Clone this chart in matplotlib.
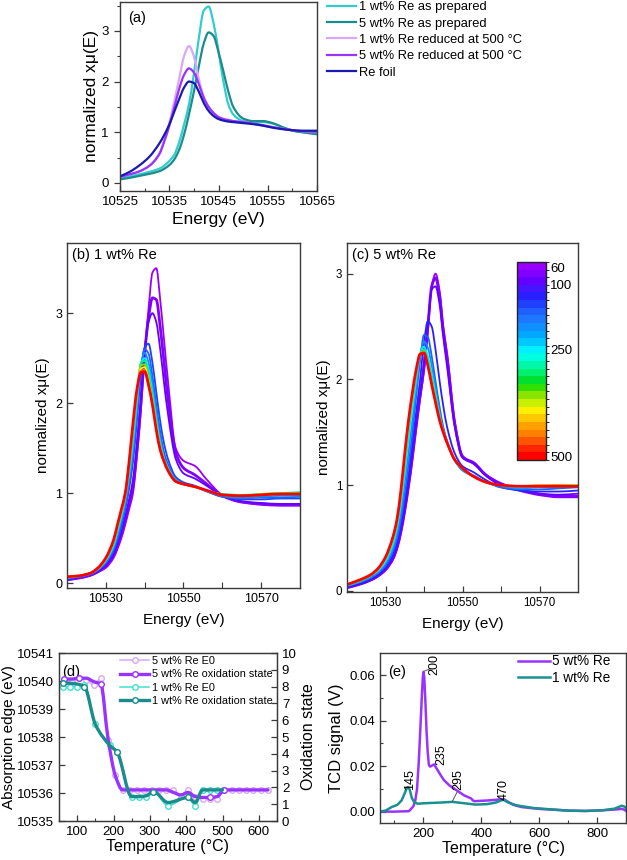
import numpy as np
import matplotlib
matplotlib.use('Agg')
import matplotlib.pyplot as plt
from matplotlib.colors import ListedColormap, BoundaryNorm
from matplotlib.ticker import MultipleLocator, FixedLocator, FormatStrFormatter
import matplotlib.colorbar as mcolorbar
from matplotlib.lines import Line2D
from matplotlib.path import Path
from matplotlib.patches import PathPatch

plt.rcParams['font.family'] = ['Liberation Sans', 'DejaVu Sans']

# ---------------- Panel (a) data ----------------
E_a = [10525, 10527, 10529, 10531, 10533, 10534, 10535, 10536, 10537, 10538, 10539, 10540,
       10541, 10542, 10543, 10544, 10545, 10546, 10547, 10548, 10550, 10552, 10554, 10556,
       10558, 10560, 10562, 10565]
a_1wt_prep = [0.10, 0.13, 0.17, 0.22, 0.28, 0.34, 0.43, 0.55, 0.80, 1.15, 1.55, 2.15, 2.85, 3.40,
              3.48, 3.15, 2.60, 2.00, 1.55, 1.35, 1.22, 1.19, 1.20, 1.17, 1.10, 1.04, 1.00, 0.97]
a_5wt_prep = [0.07, 0.10, 0.14, 0.18, 0.23, 0.28, 0.35, 0.46, 0.65, 0.95, 1.35, 1.80, 2.30, 2.75,
              2.97, 2.90, 2.58, 2.20, 1.80, 1.50, 1.27, 1.22, 1.22, 1.18, 1.10, 1.03, 1.00, 0.96]
a_1wt_red = [0.12, 0.17, 0.23, 0.34, 0.58, 0.85, 1.18, 1.60, 2.05, 2.50, 2.70, 2.50, 2.05, 1.70,
             1.50, 1.38, 1.30, 1.26, 1.24, 1.22, 1.20, 1.17, 1.13, 1.10, 1.07, 1.04, 1.02, 1.00]
a_5wt_red = [0.12, 0.17, 0.23, 0.34, 0.57, 0.82, 1.12, 1.48, 1.85, 2.13, 2.26, 2.18, 1.95, 1.68,
             1.50, 1.38, 1.30, 1.26, 1.24, 1.22, 1.20, 1.17, 1.14, 1.10, 1.07, 1.04, 1.02, 1.01]
a_foil = [0.13, 0.22, 0.35, 0.52, 0.78, 0.95, 1.15, 1.40, 1.65, 1.88, 2.00, 1.97, 1.80, 1.58,
          1.42, 1.32, 1.26, 1.23, 1.21, 1.20, 1.18, 1.16, 1.13, 1.09, 1.06, 1.04, 1.03, 1.03]
a_labels = ['1 wt% Re as prepared', '5 wt% Re as prepared', '1 wt% Re reduced at 500 °C',
            '5 wt% Re reduced at 500 °C', 'Re foil']

# ---------------- Panels (b), (c) data ----------------
E_bc = [10520, 10523, 10526, 10528, 10530, 10532, 10533, 10534, 10535, 10536, 10537, 10538,
        10539, 10540, 10541, 10542, 10543, 10544, 10545, 10546, 10548, 10550, 10553, 10556,
        10560, 10565, 10570, 10575, 10580]

b_temps = [60, 80, 100, 140, 170, 200, 250, 300, 350, 400, 450, 500]
b_60 = [0.03, 0.05, 0.08, 0.12, 0.17, 0.28, 0.38, 0.50, 0.65, 0.82, 1.00, 1.40, 1.90, 2.55, 3.05,
        3.45, 3.50, 3.15, 2.70, 2.25, 1.50, 1.36, 1.30, 1.15, 0.98, 0.90, 0.87, 0.86, 0.86]
b_80 = [0.04, 0.06, 0.09, 0.13, 0.19, 0.31, 0.41, 0.54, 0.70, 0.88, 1.08, 1.48, 1.98, 2.55, 2.95,
        3.17, 3.15, 2.85, 2.45, 2.05, 1.45, 1.28, 1.20, 1.10, 0.97, 0.90, 0.88, 0.87, 0.87]
b_100 = [0.04, 0.06, 0.09, 0.13, 0.20, 0.32, 0.43, 0.57, 0.74, 0.93, 1.15, 1.55, 2.05, 2.58, 2.90,
         3.00, 2.90, 2.60, 2.22, 1.88, 1.38, 1.22, 1.16, 1.08, 0.97, 0.91, 0.89, 0.88, 0.88]
b_140 = [0.05, 0.07, 0.10, 0.14, 0.22, 0.36, 0.48, 0.63, 0.82, 1.05, 1.35, 1.80, 2.30, 2.62, 2.66,
         2.45, 2.12, 1.80, 1.55, 1.38, 1.18, 1.12, 1.08, 1.02, 0.96, 0.93, 0.93, 0.94, 0.94]
b_170 = [0.05, 0.07, 0.10, 0.15, 0.23, 0.38, 0.51, 0.67, 0.86, 1.10, 1.42, 1.88, 2.38, 2.60, 2.55,
         2.30, 1.98, 1.68, 1.45, 1.32, 1.16, 1.11, 1.07, 1.02, 0.96, 0.94, 0.95, 0.95, 0.96]
b_200 = [0.06, 0.07, 0.10, 0.15, 0.24, 0.40, 0.54, 0.70, 0.90, 1.15, 1.50, 1.95, 2.42, 2.56, 2.45,
         2.20, 1.88, 1.60, 1.40, 1.29, 1.15, 1.10, 1.07, 1.02, 0.97, 0.95, 0.96, 0.97, 0.97]
b_250 = [0.06, 0.08, 0.11, 0.16, 0.25, 0.42, 0.57, 0.74, 0.94, 1.22, 1.58, 2.02, 2.44, 2.50, 2.37,
         2.12, 1.82, 1.56, 1.38, 1.28, 1.14, 1.10, 1.07, 1.03, 0.98, 0.97, 0.98, 0.99, 1.00]
b_300 = [0.06, 0.08, 0.11, 0.16, 0.26, 0.44, 0.60, 0.77, 0.97, 1.27, 1.66, 2.08, 2.44, 2.47, 2.32,
         2.07, 1.78, 1.53, 1.37, 1.27, 1.14, 1.10, 1.07, 1.03, 0.99, 0.98, 0.99, 1.00, 1.01]
b_350 = [0.06, 0.08, 0.11, 0.16, 0.27, 0.46, 0.62, 0.79, 0.98, 1.30, 1.72, 2.12, 2.42, 2.43, 2.27,
         2.03, 1.75, 1.51, 1.36, 1.26, 1.13, 1.10, 1.07, 1.03, 0.98, 0.97, 0.99, 1.00, 1.00]
b_400 = [0.07, 0.08, 0.11, 0.17, 0.27, 0.47, 0.63, 0.80, 0.99, 1.32, 1.75, 2.13, 2.38, 2.40, 2.24,
         2.01, 1.73, 1.50, 1.35, 1.25, 1.13, 1.10, 1.07, 1.03, 0.98, 0.97, 0.98, 0.99, 0.99]
b_450 = [0.07, 0.08, 0.11, 0.17, 0.28, 0.48, 0.64, 0.81, 1.00, 1.34, 1.77, 2.14, 2.36, 2.37, 2.22,
         1.99, 1.71, 1.49, 1.35, 1.25, 1.13, 1.10, 1.07, 1.03, 0.98, 0.97, 0.98, 0.99, 0.99]
b_500 = [0.07, 0.08, 0.11, 0.17, 0.28, 0.48, 0.65, 0.82, 1.00, 1.35, 1.78, 2.15, 2.34, 2.35, 2.20,
         1.98, 1.70, 1.48, 1.35, 1.25, 1.13, 1.10, 1.07, 1.03, 0.98, 0.97, 0.98, 0.99, 0.99]
b_curves = [b_60, b_80, b_100, b_140, b_170, b_200, b_250, b_300, b_350, b_400, b_450, b_500]

c_temps = [60, 80, 100, 130, 160, 200, 250, 300, 370, 430, 500]
c_60 = [0.03, 0.06, 0.10, 0.14, 0.20, 0.30, 0.40, 0.55, 0.75, 0.98, 1.25, 1.55, 1.82, 2.08, 2.45,
        2.88, 3.00, 2.85, 2.50, 2.25, 1.60, 1.28, 1.20, 1.10, 1.02, 0.96, 0.92, 0.90, 0.90]
c_80 = [0.03, 0.06, 0.10, 0.14, 0.20, 0.31, 0.41, 0.56, 0.76, 1.00, 1.27, 1.57, 1.85, 2.12, 2.50,
        2.88, 2.96, 2.80, 2.46, 2.20, 1.58, 1.27, 1.21, 1.10, 1.01, 0.95, 0.91, 0.89, 0.89]
c_100 = [0.04, 0.06, 0.10, 0.14, 0.21, 0.32, 0.42, 0.58, 0.78, 1.02, 1.30, 1.60, 1.88, 2.16, 2.52,
         2.85, 2.88, 2.72, 2.40, 2.12, 1.55, 1.26, 1.20, 1.09, 1.00, 0.95, 0.92, 0.91, 0.92]
c_130 = [0.04, 0.07, 0.11, 0.15, 0.22, 0.35, 0.46, 0.63, 0.85, 1.10, 1.40, 1.70, 2.00, 2.35, 2.55,
         2.50, 2.28, 2.00, 1.75, 1.55, 1.30, 1.18, 1.12, 1.05, 0.98, 0.95, 0.94, 0.94, 0.95]
c_160 = [0.05, 0.08, 0.12, 0.17, 0.24, 0.38, 0.50, 0.68, 0.92, 1.20, 1.50, 1.85, 2.18, 2.42, 2.40,
         2.22, 1.98, 1.75, 1.55, 1.42, 1.24, 1.14, 1.09, 1.03, 0.98, 0.96, 0.96, 0.97, 0.98]
c_200 = [0.05, 0.08, 0.13, 0.18, 0.26, 0.42, 0.55, 0.75, 1.02, 1.32, 1.62, 1.93, 2.22, 2.36, 2.30,
         2.13, 1.92, 1.70, 1.53, 1.41, 1.23, 1.14, 1.08, 1.03, 0.99, 0.97, 0.98, 0.98, 0.99]
c_250 = [0.05, 0.09, 0.14, 0.19, 0.28, 0.45, 0.60, 0.82, 1.12, 1.44, 1.73, 2.00, 2.24, 2.31, 2.22,
         2.05, 1.86, 1.67, 1.52, 1.41, 1.23, 1.15, 1.08, 1.03, 1.00, 0.98, 0.99, 0.99, 1.00]
c_300 = [0.06, 0.09, 0.14, 0.20, 0.30, 0.48, 0.63, 0.87, 1.19, 1.52, 1.80, 2.05, 2.24, 2.28, 2.18,
         2.01, 1.83, 1.65, 1.51, 1.40, 1.24, 1.16, 1.08, 1.03, 1.00, 0.99, 0.99, 1.00, 1.00]
c_370 = [0.06, 0.10, 0.15, 0.20, 0.31, 0.50, 0.66, 0.91, 1.24, 1.57, 1.84, 2.08, 2.24, 2.26, 2.15,
         1.98, 1.80, 1.63, 1.50, 1.40, 1.24, 1.16, 1.08, 1.03, 1.00, 0.99, 0.99, 1.00, 1.00]
c_430 = [0.06, 0.10, 0.15, 0.21, 0.32, 0.51, 0.67, 0.93, 1.27, 1.60, 1.86, 2.09, 2.24, 2.26, 2.14,
         1.97, 1.79, 1.63, 1.50, 1.40, 1.24, 1.16, 1.08, 1.03, 1.00, 0.99, 1.00, 1.00, 0.99]
c_500 = [0.06, 0.10, 0.15, 0.21, 0.32, 0.52, 0.68, 0.95, 1.30, 1.62, 1.88, 2.10, 2.24, 2.25, 2.13,
         1.95, 1.78, 1.62, 1.50, 1.40, 1.24, 1.16, 1.08, 1.03, 1.00, 0.99, 0.99, 0.99, 0.99]
c_curves = [c_60, c_80, c_100, c_130, c_160, c_200, c_250, c_300, c_370, c_430, c_500]

cbar_ticks = [60, 100, 250, 500]

# ---------------- Panel (d) data ----------------
T_5 = [65, 85, 105, 125, 145, 165, 185, 205, 225, 245, 265, 285, 305, 325, 345, 365, 385, 405,
       425, 445, 465, 485, 505, 525, 545, 565, 585, 605, 625]
E0_5 = [10540.05, 10539.95, 10540.1, 10540.05, 10539.85, 10540.1, 10537.9, 10536.65, 10536.1,
        10536.1, 10536.1, 10536.1, 10536.1, 10536.1, 10536.1, 10536.1, 10535.9, 10536.1,
        10535.85, 10535.8, 10535.8, 10535.8, 10536.1, 10536.1, 10536.1, 10536.1, 10536.1,
        10536.1, 10536.1]
OX_5 = [8.45, 8.45, 8.5, 8.5, 8.3, 8.15, 4.9, 2.7, 1.85, 1.85, 1.85, 1.85, 1.85, 1.85, 1.85,
        1.7, 1.55, 1.7, 1.45, 1.4, 1.4, 1.45, 1.85, 1.85, 1.85, 1.85, 1.85, 1.85, 1.85]
T_1 = [60, 80, 100, 120, 150, 190, 210, 250, 270, 290, 310, 350, 405, 425, 445, 465, 485, 500]
E0_1 = [10539.8, 10539.8, 10539.8, 10539.85, 10538.45, 10537.7, 10537.45, 10535.85, 10535.85,
        10535.85, 10536.05, 10535.55, 10535.85, 10535.55, 10536.1, 10536.1, 10536.1, 10536.1]
OX_1 = [8.2, 8.2, 8.15, 8.0, 5.75, 4.5, 4.1, 1.45, 1.45, 1.5, 1.75, 1.1, 1.4, 1.1, 1.85, 1.85,
        1.85, 1.85]
d_labels = ['5 wt% Re E0', '5 wt% Re oxidation state', '1 wt% Re E0', '1 wt% Re oxidation state']

# ---------------- Panel (e) data ----------------
Te_5 = [50, 100, 150, 165, 172, 178, 184, 190, 195, 198, 200, 203, 207, 211, 215, 219, 223, 230,
        237, 243, 255, 270, 290, 310, 340, 365, 372, 376, 390, 420, 450, 470, 478, 490, 510, 540,
        600, 700, 760, 820, 870, 885, 895, 900]
Ve_5 = [0.0, 0.0, 0.0002, 0.0023, 0.005, 0.010, 0.022, 0.038, 0.052, 0.059, 0.0615, 0.059,
        0.048, 0.035, 0.026, 0.0205, 0.0198, 0.0203, 0.0208, 0.0195, 0.017, 0.014, 0.0115,
        0.0098, 0.0072, 0.0058, 0.0048, 0.0046, 0.0047, 0.0049, 0.0052, 0.0055, 0.0055, 0.0045,
        0.0030, 0.0020, 0.0012, 0.0005, 0.0003, 0.0006, 0.0010, 0.0012, 0.0008, 0.0003]
Te_1 = [50, 70, 90, 110, 125, 135, 143, 148, 153, 160, 168, 180, 220, 260, 300, 340, 380, 420,
        450, 470, 478, 490, 520, 580, 650, 700, 760, 820, 860, 885, 895, 900]
Ve_1 = [0.0, 0.0005, 0.002, 0.003, 0.005, 0.008, 0.0105, 0.0108, 0.0095, 0.006, 0.0042, 0.0035,
        0.0038, 0.0040, 0.0043, 0.0037, 0.0031, 0.0033, 0.0040, 0.0050, 0.0052, 0.0042, 0.0028,
        0.0016, 0.0009, 0.0004, 0.0003, 0.0006, 0.0013, 0.0026, 0.0022, 0.0015]
e_peak_labels = ['145', '200', '235', '295', '470']
e_peak_pos = [(155, 0.0096), (238, 0.0600), (261, 0.0206), (320, 0.0096), (478, 0.0053)]
e_labels = ['5 wt% Re', '1 wt% Re']

# ---------------- styling ----------------
SPINE = '#3a3a3a'
C_CYAN = '#33CCCC'
C_TEAL = '#1A8C8C'
C_LAV = '#D9A8F8'
C_VIO = '#9933FF'
C_NAVY = '#1A1AB0'
C_LCYAN = '#40E0D0'

band_colors = ['#9A00FF', '#8200FF', '#6400FF', '#4614FF', '#2A20FF', '#2040FF', '#2060FF',
               '#1E78FF', '#1090FF', '#00A8FF', '#00C8FF', '#00F0FF', '#00FFE0', '#00F8A8',
               '#00F070', '#00E030', '#30E000', '#88E400', '#C8F000', '#FFF000', '#FFC800',
               '#FFA000', '#FF8000', '#FF5400', '#FF2400', '#FF0000']
cmap = ListedColormap(band_colors)
norm = BoundaryNorm(np.linspace(48, 507, len(band_colors) + 1), len(band_colors))

fig = plt.figure(figsize=(6.27, 8.60), dpi=100)


def smooth_line(ax, x, y, color, lw, zorder=2):
    """Draw a line through the data points as a smooth (monotone cubic) Bezier path."""
    x = np.asarray(x, float)
    y = np.asarray(y, float)
    h = np.diff(x)
    d = np.diff(y) / h
    m = np.zeros_like(y)
    m[0], m[-1] = d[0], d[-1]
    for k in range(1, len(x) - 1):
        if d[k - 1] * d[k] <= 0:
            m[k] = 0.0
        else:
            w1 = 2 * h[k] + h[k - 1]
            w2 = h[k] + 2 * h[k - 1]
            m[k] = (w1 + w2) / (w1 / d[k - 1] + w2 / d[k])
    verts = [(x[0], y[0])]
    codes = [Path.MOVETO]
    for k in range(len(x) - 1):
        verts += [(x[k] + h[k] / 3, y[k] + m[k] * h[k] / 3),
                  (x[k + 1] - h[k] / 3, y[k + 1] - m[k + 1] * h[k] / 3),
                  (x[k + 1], y[k + 1])]
        codes += [Path.CURVE4] * 3
    patch = PathPatch(Path(verts, codes), facecolor='none', edgecolor=color, lw=lw,
                      capstyle='round', joinstyle='round', zorder=zorder)
    ax.add_patch(patch)
    return patch


def style_axes(ax, xdir='in', ydir='in'):
    for s in ax.spines.values():
        s.set_color(SPINE)
        s.set_linewidth(1.0)
    ax.tick_params(axis='x', which='both', direction=xdir, color=SPINE, top=False)
    ax.tick_params(axis='y', which='both', direction=ydir, color=SPINE, right=False)
    ax.tick_params(which='major', length=4.5, width=0.9)
    ax.tick_params(which='minor', length=2.5, width=0.8)


def px_axes(l, t, r, b):
    return fig.add_axes([l / 627, 1 - b / 860, (r - l) / 627, (b - t) / 860])


# ---------------- (a) ----------------
ax_a = px_axes(120, 2, 317, 191)
series_a = [a_1wt_prep, a_5wt_prep, a_1wt_red, a_5wt_red, a_foil]
cols_a = [C_CYAN, C_TEAL, C_LAV, C_VIO, C_NAVY]
handles = []
for ys, c, lab in zip(series_a, cols_a, a_labels):
    smooth_line(ax_a, E_a, ys, c, 1.6)
    handles.append(Line2D([], [], color=c, lw=1.6, label=lab))
ax_a.set_xlim(10525, 10565)
ax_a.set_ylim(-0.16, 3.57)
ax_a.xaxis.set_major_locator(FixedLocator([10525, 10535, 10545, 10555, 10565]))
ax_a.xaxis.set_minor_locator(MultipleLocator(5))
ax_a.yaxis.set_major_locator(MultipleLocator(1))
ax_a.yaxis.set_minor_locator(MultipleLocator(0.5))
ax_a.xaxis.set_major_formatter(FormatStrFormatter('%d'))
style_axes(ax_a, xdir='in', ydir='out')
ax_a.tick_params(labelsize=9.5)
ax_a.set_xlabel('Energy (eV)', fontsize=12.5, labelpad=3)
ax_a.set_ylabel('normalized xμ(E)', fontsize=12.5, labelpad=2)
ax_a.text(0.04, 0.95, '(a)', transform=ax_a.transAxes, fontsize=10.5, va='top')
fig.legend(handles=handles, loc='upper left', bbox_to_anchor=(326 / 627, 1.0),
           frameon=False, fontsize=9.3, handlelength=2.2, handletextpad=0.25,
           labelspacing=0.33, borderpad=0.1, borderaxespad=0)


# ---------------- (b) and (c) ----------------
def xanes_panel(ax, temps, curves, title, ylim, labsize, ylabelpad):
    for T, ys in zip(temps, curves):
        col = cmap(norm(T))
        lw = 2.0 if T in (80, 500) else 1.3
        smooth_line(ax, E_bc, ys, col, lw)
    ax.set_xlim(10520, 10580)
    ax.set_ylim(*ylim)
    ax.xaxis.set_major_locator(FixedLocator([10530, 10550, 10570]))
    ax.xaxis.set_minor_locator(FixedLocator([10540, 10560]))
    ax.yaxis.set_major_locator(MultipleLocator(1))
    ax.xaxis.set_major_formatter(FormatStrFormatter('%d'))
    style_axes(ax, 'in', 'in')
    ax.tick_params(labelsize=labsize)
    ax.tick_params(axis='x', which='minor', length=4.5)
    ax.set_xlabel('Energy (eV)', fontsize=11, labelpad=6)
    ax.set_ylabel('normalized xμ(E)', fontsize=11, labelpad=ylabelpad)
    ax.text(0.02, 0.985, title, transform=ax.transAxes, fontsize=10.5, va='top')


ax_b = px_axes(67, 243, 300, 588)
xanes_panel(ax_b, b_temps, b_curves, '(b) 1 wt% Re', (-0.055, 3.78), 9, 4)
ax_c = px_axes(347, 243, 578, 592)
xanes_panel(ax_c, c_temps, c_curves, '(c) 5 wt% Re', (-0.01, 3.29), 8.3, 3)

cax = px_axes(517, 262, 546, 460)
cb = mcolorbar.ColorbarBase(cax, cmap=cmap, norm=norm, orientation='vertical')
cax.invert_yaxis()
cb.set_ticks(cbar_ticks)
cb.set_ticklabels([str(t) for t in cbar_ticks])
cax.tick_params(length=0, labelsize=9.5, pad=3)
cb.outline.set_linewidth(1.0)
cb.outline.set_edgecolor('#222222')

# ---------------- (d) ----------------
ax_d = px_axes(59, 653, 277, 821)
ax_d2 = ax_d.twinx()
mk = dict(marker='o', ms=4, mfc='white', mew=1.0, ls='none')
smooth_line(ax_d, T_5, E0_5, C_LAV, 1.1)
ax_d.plot(T_5, E0_5, mec=C_LAV, **mk)
smooth_line(ax_d, T_1, E0_1, C_LCYAN, 1.1)
ax_d.plot(T_1, E0_1, mec=C_LCYAN, **mk)
smooth_line(ax_d2, T_5, OX_5, C_VIO, 2.4)
ax_d2.plot([T_5[i] for i in (0, 2, 5, 20, 22)], [OX_5[i] for i in (0, 2, 5, 20, 22)],
           mec=C_VIO, **mk)
smooth_line(ax_d2, T_1, OX_1, C_TEAL, 2.4)
ax_d2.plot([T_1[i] for i in (0, 3, 6, 10, 12)], [OX_1[i] for i in (0, 3, 6, 10, 12)],
           mec=C_TEAL, **mk)
d_cols = [C_LAV, C_VIO, C_LCYAN, C_TEAL]
d_lws = [1.1, 2.4, 1.1, 2.4]
d_handles = [Line2D([], [], color=c, lw=w, marker='o', ms=4, mfc='white', mec=c, mew=1.0,
                    label=lab) for c, w, lab in zip(d_cols, d_lws, d_labels)]
ax_d.set_xlim(50, 650)
ax_d.set_ylim(10535, 10541)
ax_d2.set_ylim(0, 10)
ax_d.xaxis.set_major_locator(MultipleLocator(100))
ax_d.xaxis.set_minor_locator(MultipleLocator(50))
ax_d.yaxis.set_major_locator(MultipleLocator(1))
ax_d.yaxis.set_major_formatter(FormatStrFormatter('%d'))
ax_d2.yaxis.set_major_locator(MultipleLocator(1))
style_axes(ax_d, 'in', 'in')
for s in ax_d2.spines.values():
    s.set_color(SPINE)
ax_d2.tick_params(axis='y', direction='in', color=SPINE, length=4.5, width=0.9, labelsize=9.5)
ax_d.tick_params(labelsize=9.5)
ax_d.set_xlabel('Temperature (°C)', fontsize=11.5, labelpad=1)
ax_d.set_ylabel('Absorption edge (eV)', fontsize=11, labelpad=1)
ax_d2.set_ylabel('Oxidation state', fontsize=11.5, labelpad=3)
ax_d.text(0.015, 0.93, '(d)', transform=ax_d.transAxes, fontsize=10.5, va='top')
fig.legend(handles=d_handles, loc='upper left', bbox_to_anchor=(119 / 627, 1 - 655 / 860),
           frameon=False, fontsize=7.8, handlelength=2.7, handletextpad=0.2,
           labelspacing=0.3, borderpad=0.1, borderaxespad=0)

# ---------------- (e) ----------------
ax_e = px_axes(380, 653, 626, 823)
ax_e.plot(Te_5, Ve_5, color=C_VIO, lw=1.8)
ax_e.plot(Te_1, Ve_1, color='#1A9090', lw=1.8)
e_handles = [Line2D([], [], color=C_VIO, lw=1.8, label=e_labels[0]),
             Line2D([], [], color='#1A9090', lw=1.8, label=e_labels[1])]
ax_e.set_xlim(50, 900)
ax_e.set_ylim(-0.005, 0.0698)
ax_e.xaxis.set_major_locator(MultipleLocator(200))
ax_e.xaxis.set_minor_locator(MultipleLocator(100))
ax_e.yaxis.set_major_locator(MultipleLocator(0.02))
ax_e.yaxis.set_minor_locator(MultipleLocator(0.01))
ax_e.yaxis.set_major_formatter(FormatStrFormatter('%.2f'))
style_axes(ax_e, 'in', 'in')
ax_e.tick_params(labelsize=9.5)
ax_e.set_xlabel('Temperature (°C)', fontsize=11.5, labelpad=1)
ax_e.set_ylabel('TCD signal (V)', fontsize=12, labelpad=4)
ax_e.text(0.035, 0.93, '(e)', transform=ax_e.transAxes, fontsize=10.5, va='top')
for lab, (tx, ty) in zip(e_peak_labels, e_peak_pos):
    ax_e.text(tx, ty, lab, rotation=90, ha='center', va='bottom', fontsize=9)
ax_e.plot([203, 222], [0.0618, 0.0628], color='#555555', lw=0.7)
ax_e.plot([300, 316], [0.0045, 0.0085], color='#555555', lw=0.7)
fig.legend(handles=e_handles, loc='upper left', bbox_to_anchor=(517 / 627, 1 - 653 / 860),
           frameon=False, fontsize=9.8, handlelength=2.3, handletextpad=0.2,
           labelspacing=0.2, borderpad=0.1, borderaxespad=0)

fig.savefig('out.png', dpi=100)
